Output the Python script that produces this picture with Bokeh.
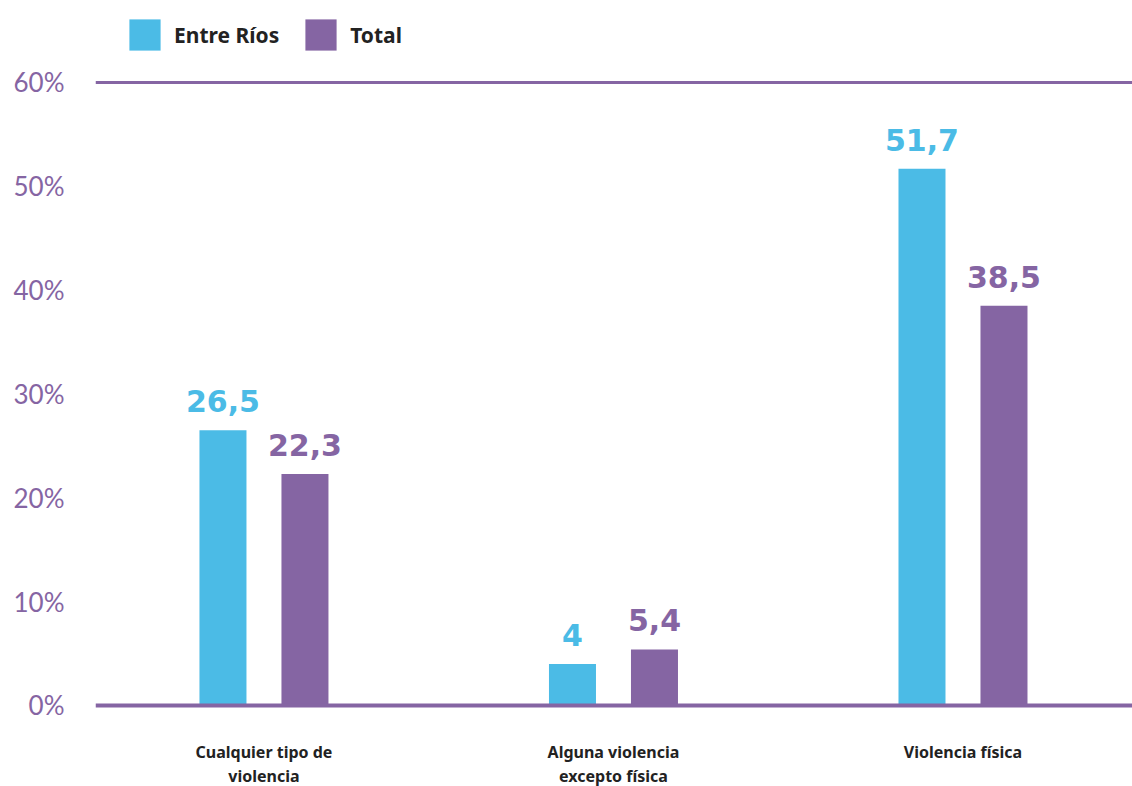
from bokeh.plotting import figure
from bokeh.models import (ColumnDataSource, Range1d, FixedTicker, Legend, LegendItem,
                          Span, LabelSet, CustomJSTickFormatter)
from bokeh.transform import dodge
from bokeh.core.properties import value
from bokeh.embed import file_html
from bokeh.resources import INLINE

categories = ["Cualquier tipo de\nviolencia", "Alguna violencia\nexcepto física", "Violencia física"]
entre_rios = [26.5, 4.0, 51.7]
total = [22.3, 5.4, 38.5]
entre_rios_labels = ["26,5", "4", "51,7"]
total_labels = ["22,3", "5,4", "38,5"]
y_ticks = [0, 10, 20, 30, 40, 50, 60]

BLUE = "#4bbbe6"
PURPLE = "#8565a3"

src = ColumnDataSource(dict(
    x=list(range(len(categories))),
    cat=categories,
    base=[0] * len(categories),
    er=entre_rios, tot=total,
    erl=entre_rios_labels, totl=total_labels,
))

p = figure(width=1132, height=786, output_backend="svg", toolbar_location=None,
           x_range=Range1d(-0.482, 2.485), y_range=Range1d(-7.801, 67.897),
           min_border_left=95, min_border_right=0, min_border_top=0, min_border_bottom=0)
p.outline_line_color = None
p.grid.visible = False
p.xaxis.visible = False

bw = 0.1345
off = 0.1173
r1 = p.vbar(x=dodge("x", -off), top="er", bottom=0, width=bw, source=src,
            fill_color=BLUE, line_color=None)
r2 = p.vbar(x=dodge("x", off), top="tot", bottom=0, width=bw, source=src,
            fill_color=PURPLE, line_color=None)

p.add_layout(Span(location=0, dimension="width", line_color=PURPLE, line_width=4))
p.add_layout(Span(location=60, dimension="width", line_color=PURPLE, line_width=3))

for col, lab, color, o in (("er", "erl", BLUE, -off), ("tot", "totl", PURPLE, off)):
    p.add_layout(LabelSet(x=dodge("x", o), y=col, text=lab, source=src,
                          text_align="center", text_baseline="alphabetic", y_offset=18,
                          text_font=value("DejaVu Sans"), text_font_style="bold",
                          text_font_size="30px", text_color=color))

# category labels under the baseline
p.text(x="x", y="base", text="cat", source=src, y_offset=36,
       text_align="center", text_baseline="top", text_line_height=1.05,
       text_font=value("Noto Sans"), text_font_style="bold",
       text_font_size="16px", text_color="#222222")

# y axis
p.yaxis.ticker = FixedTicker(ticks=y_ticks)
p.yaxis.formatter = CustomJSTickFormatter(code="return tick + '%';")
p.yaxis.axis_line_color = None
p.yaxis.major_tick_line_color = None
p.yaxis.minor_tick_line_color = None
p.yaxis.major_label_text_font = "Lato"
p.yaxis.major_label_text_font_size = "26px"
p.yaxis.major_label_text_color = PURPLE
p.yaxis.major_label_standoff = 25

legend = Legend(items=[LegendItem(label="Entre Ríos", renderers=[r1]),
                       LegendItem(label="Total", renderers=[r2])],
                orientation="horizontal", location=(30, 732),
                glyph_width=39, glyph_height=39, label_standoff=10, spacing=22,
                padding=0, margin=0, border_line_color=None, background_fill_alpha=0,
                label_text_font="Noto Sans", label_text_font_style="bold",
                label_text_font_size="21px", label_text_color="#222222")
p.add_layout(legend, "center")

open("out.html", "w").write(file_html(p, INLINE))
